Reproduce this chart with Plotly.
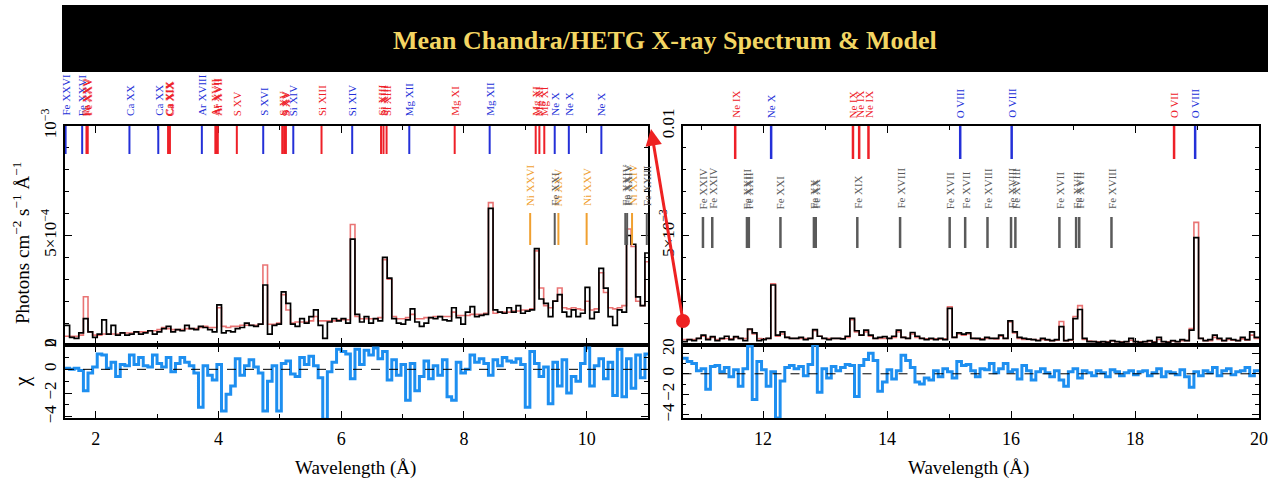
import numpy as np
import plotly.graph_objects as go

W, H = 1278, 485
SERIF = "Liberation Serif, Times New Roman, serif"

# ---------------- data ----------------
BIN = 0.075
LEFT_START = 1.5
RIGHT_START = 10.7
LEFT_UNIT = 1e-4
RIGHT_UNIT = 1e-3

left_flux = [0.9, 0.35, 0.3, 0.55, 1.2, 0.6, 0.35, 0.5, 1.15, 0.5,
             0.9, 0.45, 0.55, 0.45, 0.5, 0.6, 0.5, 0.55, 0.65, 0.5,
             0.6, 0.75, 0.85, 0.6, 0.7, 0.65, 0.9, 0.75, 0.7, 0.85,
             0.8, 0.7, 0.6, 1.83, 0.55, 0.65, 0.6, 0.75, 0.8, 1.0,
             0.9, 0.85, 0.95, 2.74, 0.5, 0.9, 0.95, 2.43, 1.9, 0.95,
             0.85, 1.2, 1.0, 1.3, 1.6, 0.9, 0.3, 1.05, 1.2, 1.1,
             1.2, 1.0, 4.83, 1.4, 1.05, 1.3, 1.0, 1.2, 1.1, 4.0,
             3.05, 1.2, 1.0, 0.95, 1.15, 1.65, 1.05, 0.85, 1.0, 1.25,
             1.2, 1.3, 1.15, 1.1, 1.7, 1.25, 0.95, 1.5, 1.75, 1.3,
             1.35, 1.4, 6.24, 1.6, 1.5, 1.45, 1.7, 1.5, 1.8, 1.45,
             1.55, 1.6, 4.4, 2.1, 1.9, 1.3, 2.0, 2.3, 1.5, 1.3,
             1.6, 1.3, 1.45, 2.63, 1.2, 1.5, 3.5, 2.6, 1.3, 0.9,
             1.6, 1.5, 5.0, 4.6, 2.2, 1.8, 4.2]

left_model = [0.4, 0.4, 0.4, 0.45, 2.2, 0.6, 0.45, 0.45, 0.5, 0.5,
              0.5, 0.5, 0.55, 0.55, 0.55, 0.6, 0.6, 0.6, 0.65, 0.65,
              0.7, 0.8, 0.75, 0.7, 0.7, 0.7, 0.75, 0.75, 0.75, 0.8,
              0.85, 0.8, 0.8, 1.7, 0.85, 0.8, 0.85, 0.85, 0.9, 0.9,
              0.9, 0.9, 0.95, 3.65, 0.95, 0.95, 1.0, 2.3, 1.6, 1.0,
              1.05, 1.05, 1.05, 1.1, 1.3, 1.1, 1.1, 1.1, 1.1, 1.15,
              1.15, 1.15, 5.5, 1.3, 1.2, 1.2, 1.2, 1.2, 1.25, 3.9,
              3.0, 1.3, 1.2, 1.2, 1.25, 1.4, 1.2, 1.2, 1.25, 1.25,
              1.3, 1.3, 1.3, 1.3, 1.5, 1.35, 1.35, 1.35, 1.4, 1.4,
              1.4, 1.45, 6.5, 1.45, 1.5, 1.5, 1.5, 1.55, 1.55, 1.6,
              1.6, 1.65, 4.3, 2.6, 1.8, 1.7, 2.0, 2.6, 1.7, 1.65,
              1.7, 1.65, 1.6, 2.0, 1.6, 1.65, 3.3, 2.4, 1.7, 1.65,
              1.7, 1.8, 5.3, 4.5, 2.0, 1.8, 3.8]

left_chi = [0.1, 0.0, 0.1, -0.1, -1.8, -0.3, 0.2, 1.3, 1.2, 0.1,
            0.6, -0.6, 0.4, 0.3, 1.2, 0.4, 1.0, 0.3, 0.2, 1.2,
            0.5, 0.2, 1.0, -0.2, 0.5, 1.0, 0.6, 0.3, -0.3, -3.2,
            0.3, -0.5, -0.9, 0.4, -3.5, -2.1, -1.4, 0.9, -0.5, 0.3,
            0.8, 0.2, -0.3, -3.5, -1.0, 0.3, -3.5, 0.5, 0.7, -0.4,
            -0.6, 1.0, 0.4, 1.1, 0.3, -0.7, -4.2, -0.2, 0.6, 1.7,
            1.5, 1.3, -0.8, 1.7, 0.4, 1.6, 1.2, 1.8, 0.9, 1.5,
            -0.9, 0.8, -0.5, 0.4, -2.6, 0.5, -1.8, -0.6, 0.7, -0.8,
            0.3, -0.5, 0.8, -2.3, -2.6, 0.6, -0.3, 0.0, 1.2, 0.6,
            0.9, 0.5, -0.5, 0.8, 0.3, 1.0, 0.7, 0.6, 0.9, 0.4,
            -3.2, 1.5, 0.5, -0.6, 0.2, -2.9, 0.6, -1.4, 0.8, -2.0,
            -0.6, -1.0, 0.5, 1.8, -1.4, 0.3, 0.9, -0.8, 0.6, -2.2,
            1.7, -2.3, 0.9, -1.6, 1.2, -0.7, 1.3]

right_flux = [0.15, 0.25, 0.2, 0.3, 0.45, 0.25, 0.38, 0.2, 0.3, 0.4,
              0.25, 0.38, 0.3, 0.2, 0.73, 0.55, 0.2, 0.25, 0.3, 2.74,
              0.45, 0.6, 0.35, 0.3, 0.3, 0.35, 0.25, 0.3, 0.7, 0.4,
              0.3, 0.25, 0.3, 0.3, 0.28, 0.4, 1.22, 0.65, 0.45, 0.68,
              0.45, 0.3, 0.35, 0.38, 0.3, 0.4, 0.68, 0.35, 0.3, 0.57,
              0.4, 0.3, 0.25, 0.3, 0.25, 0.3, 0.25, 1.67, 0.35, 0.55,
              0.5, 0.55, 0.3, 0.3, 0.25, 0.35, 0.3, 0.3, 0.45, 0.3,
              1.1, 0.6, 0.35, 0.3, 0.27, 0.25, 0.2, 0.3, 0.25, 0.2,
              0.25, 0.84, 0.2, 0.25, 1.2, 1.62, 0.3, 0.15, 0.15, 0.12,
              0.15, 0.12, 0.2, 0.15, 0.12, 0.15, 0.3, 0.15, 0.12, 0.15,
              0.2, 0.12, 0.35, 0.15, 0.12, 0.2, 0.15, 0.25, 0.2, 0.68,
              4.9, 0.3, 0.2, 0.25, 0.45, 0.3, 0.2, 0.3, 0.25, 0.2,
              0.35, 0.25, 0.6, 0.35]

right_model = [0.25, 0.25, 0.25, 0.3, 0.4, 0.3, 0.35, 0.25, 0.28, 0.3,
               0.28, 0.35, 0.3, 0.3, 0.7, 0.5, 0.3, 0.28, 0.3, 2.8,
               0.4, 0.5, 0.35, 0.3, 0.3, 0.3, 0.3, 0.3, 0.65, 0.4,
               0.3, 0.3, 0.3, 0.3, 0.3, 0.35, 1.15, 0.6, 0.45, 0.6,
               0.4, 0.3, 0.3, 0.3, 0.3, 0.35, 0.6, 0.35, 0.3, 0.5,
               0.35, 0.3, 0.28, 0.28, 0.28, 0.28, 0.28, 1.75, 0.35, 0.5,
               0.45, 0.5, 0.3, 0.28, 0.28, 0.3, 0.3, 0.28, 0.4, 0.3,
               1.05, 0.55, 0.3, 0.25, 0.25, 0.25, 0.22, 0.25, 0.22, 0.2,
               0.22, 1.07, 0.2, 0.22, 1.3, 1.8, 0.25, 0.18, 0.16, 0.15,
               0.15, 0.15, 0.18, 0.15, 0.15, 0.15, 0.22, 0.15, 0.15, 0.15,
               0.16, 0.15, 0.25, 0.15, 0.15, 0.18, 0.15, 0.2, 0.2, 0.75,
               5.6, 0.3, 0.2, 0.2, 0.35, 0.25, 0.2, 0.25, 0.22, 0.2,
               0.28, 0.22, 0.45, 0.3]

right_chi = [1.5, 1.2, 1.0, 0.3, 0.5, -1.5, 0.7, 0.8, 0.2, 0.6,
             -0.3, 0.4, -1.2, 0.5, 2.7, -2.5, 1.2, 0.4, -1.2, 0.2,
             -4.3, -0.7, 0.6, 0.8, 0.5, 0.7, -0.2, 0.9, 2.8, -1.8,
             0.5, -0.4, 0.7, 0.3, 0.6, 0.9, 0.8, -2.2, 0.8, 1.4,
             2.0, 1.3, -1.7, -0.8, 0.4, -0.5, 0.3, 1.8, 1.3, 0.6,
             -0.8, -1.0, -0.4, -0.6, 0.3, -0.3, 0.5, 0.2, -0.4, 1.2,
             0.8, 0.9, 0.3, -0.3, 0.5, 0.4, 1.0, 0.1, 0.5, 1.0,
             0.2, 0.4, -0.5, 0.8, 0.3, -0.6, 0.2, 0.5, 0.1, -0.3,
             0.3, -0.6, -1.2, 0.2, 0.5, -0.4, 0.3, 0.1, -0.2, 0.3,
             0.1, -0.3, 0.4, 0.2, -0.2, 0.1, 0.3, -0.1, 0.2, 0.3,
             -0.2, 0.1, 0.5, -0.3, 0.2, 0.1, -0.1, 0.4, -0.3, -1.3,
             0.2, -0.2, 0.3, 0.1, 0.6, -0.2, 0.3, 0.5, -0.1, 0.2,
             0.3, 0.6, -0.2, 0.3]

# line identifications
left_h_wl = [1.51, 1.78, 2.55, 3.02, 3.73, 4.73, 5.22, 6.18, 7.11, 8.42, 9.48, 9.71, 10.24]
left_h_lbl = ["Fe XXVI", "Fe XXVI", "Ca XX", "Ca XX", "Ar XVIII", "S XVI", "Si XIV",
              "Si XIV", "Mg XII", "Mg XII", "Ne X", "Ne X", "Ne X"]
left_he_wl = [1.85, 1.86, 1.87, 3.18, 3.19, 3.21, 3.95, 3.97, 3.99, 4.30, 5.04, 5.07, 5.10,
              5.68, 6.65, 6.69, 6.74, 7.85, 9.17, 9.23, 9.31]
left_he_lbl = ["Fe XXV", "Fe XXV", "Fe XXV", "Ca XIX", "Ca XIX", "Ca XIX", "Ar XVII", "Ar XVII",
               "Ar XVII", "S XV", "S XV", "S XV", "S XV", "Si XIII", "Si XIII", "Si XIII",
               "Si XIII", "Mg XI", "Mg XI", "Mg XI", "Mg XI"]
left_ni_wl = [9.08, 9.54, 10.00, 10.74]
left_ni_lbl = ["Ni XXVI", "Ni XXV", "Ni XXV", "Ni XXIV"]
left_fe_wl = [9.48, 10.63, 10.66, 10.98]
left_fe_lbl = ["Fe XXI", "Fe XXIV", "Fe XXIV", "Fe XXIII"]

right_h_wl = [12.13, 15.18, 16.01, 18.97]
right_h_lbl = ["Ne X", "O VIII", "O VIII", "O VIII"]
right_he_wl = [11.55, 13.45, 13.55, 13.70, 18.63]
right_he_lbl = ["Ne IX", "Ne IX", "Ne IX", "Ne IX", "O VII"]
right_fe_wl = [11.03, 11.18, 11.74, 11.77, 12.28, 12.82, 12.85, 13.52, 14.21, 15.01, 15.26,
               15.62, 16.00, 16.07, 16.78, 17.05, 17.10, 17.62]
right_fe_lbl = ["Fe XXIV", "Fe XXIV", "Fe XXIII", "Fe XXII", "Fe XXI", "Fe XX", "Fe XX",
                "Fe XIX", "Fe XVIII", "Fe XVII", "Fe XVII", "Fe XVIII", "Fe XVIII", "Fe XVIII",
                "Fe XVII", "Fe XVII", "Fe XVII", "Fe XVIII"]

TITLE = "Mean Chandra/HETG X-ray Spectrum & Model"

# ---------------- helpers ----------------
def px(x):
    return x / W

def py(y):
    return 1 - y / H

def steps(start, vals, unit=1.0):
    n = len(vals)
    x = start + BIN * np.arange(n + 1)
    y = [v * unit for v in vals] + [vals[-1] * unit]
    return x, y

BLUE = "#2430d8"
RED = "#ee2028"
GRAY = "#5a5a5a"
ORANGE = "#f0a030"
CHI_BLUE = "#1e8ff0"
MODEL = "rgba(226,70,70,0.75)"

fig = go.Figure()

# left spectrum
xs, ys = steps(LEFT_START, left_model, LEFT_UNIT)
fig.add_trace(go.Scatter(x=xs, y=ys, mode="lines", line=dict(color=MODEL, width=1.6, shape="hv"),
                         xaxis="x", yaxis="y", showlegend=False))
xs, ys = steps(LEFT_START, left_flux, LEFT_UNIT)
fig.add_trace(go.Scatter(x=xs, y=ys, mode="lines", line=dict(color="black", width=1.7, shape="hv"),
                         xaxis="x", yaxis="y", showlegend=False))
# right spectrum
xs, ys = steps(RIGHT_START, right_model, RIGHT_UNIT)
fig.add_trace(go.Scatter(x=xs, y=ys, mode="lines", line=dict(color=MODEL, width=1.6, shape="hv"),
                         xaxis="x2", yaxis="y2", showlegend=False))
xs, ys = steps(RIGHT_START, right_flux, RIGHT_UNIT)
fig.add_trace(go.Scatter(x=xs, y=ys, mode="lines", line=dict(color="black", width=1.7, shape="hv"),
                         xaxis="x2", yaxis="y2", showlegend=False))
# residuals
xs, ys = steps(LEFT_START, left_chi)
fig.add_trace(go.Scatter(x=xs, y=ys, mode="lines", line=dict(color=CHI_BLUE, width=3, shape="hv"),
                         xaxis="x3", yaxis="y3", showlegend=False))
xs, ys = steps(RIGHT_START, right_chi)
fig.add_trace(go.Scatter(x=xs, y=ys, mode="lines", line=dict(color=CHI_BLUE, width=3, shape="hv"),
                         xaxis="x4", yaxis="y4", showlegend=False))

# ---------------- axes ----------------
LX = [px(65), px(648)]
RX = [px(682.5), px(1259)]
SPEC_Y = [py(345), py(126)]
RES_Y = [py(418), py(345)]

common = dict(showline=True, linecolor="black", linewidth=1.5, mirror="ticks", ticks="inside",
              ticklen=7, tickwidth=1.2, tickcolor="black", showgrid=False, zeroline=False,
              automargin=False,
              tickfont=dict(family=SERIF, size=18, color="black"))

def minor(d):
    return dict(dtick=d, ticks="inside", ticklen=4, tickwidth=1, tickcolor="black", showgrid=False)

YFONT = dict(family=SERIF, size=17, color="black")

fig.update_layout(
    xaxis=dict(common, domain=LX, anchor="y", range=[1.5, 11], dtick=2, tick0=0,
               minor=minor(1), showticklabels=False),
    xaxis3=dict(common, domain=LX, anchor="y3", range=[1.5, 11], dtick=2, tick0=0,
                minor=minor(1), ticklabelstandoff=4),
    yaxis=dict(common, domain=SPEC_Y, anchor="x", range=[0, 1e-3],
               tickvals=[0, 5e-4, 1e-3], ticktext=["0", "5×10<sup>−4</sup>", "10<sup>−3</sup>"],
               tickangle=-90, minor=minor(1e-4), tickfont=YFONT),
    yaxis3=dict(common, domain=RES_Y, anchor="x3", range=[-4.1, 2.05],
                tickvals=[-4, -2, 0, 2], ticktext=["−4", "−2", "0", "2"],
                tickangle=-90, minor=minor(1), tickfont=YFONT),
    xaxis2=dict(common, domain=RX, anchor="y2", range=[10.7, 20], dtick=2, tick0=0,
                minor=minor(1), showticklabels=False),
    xaxis4=dict(common, domain=RX, anchor="y4", range=[10.7, 20], dtick=2, tick0=0,
                minor=minor(1), ticklabelstandoff=4),
    yaxis2=dict(common, domain=SPEC_Y, anchor="x2", range=[0, 0.01],
                tickvals=[0, 5e-3, 0.01], ticktext=["0", "5×10<sup>−3</sup>", "0.01"],
                tickangle=-90, minor=minor(1e-3), tickfont=YFONT),
    yaxis4=dict(common, domain=RES_Y, anchor="x4", range=[-4.3, 2.8],
                tickvals=[-4, -2, 0, 2], ticktext=["−4", "−2", "0", "2"],
                tickangle=-90, minor=minor(1), tickfont=YFONT),
)

shapes = []
annotations = []

# title bar
shapes.append(dict(type="rect", xref="paper", yref="paper", x0=px(62), x1=px(1268),
                   y0=py(72), y1=py(5), fillcolor="black", line=dict(width=0), layer="above"))
annotations.append(dict(text="<b>" + TITLE + "</b>", xref="paper", yref="paper",
                        x=px(665), y=py(40), xanchor="center", yanchor="middle", showarrow=False,
                        font=dict(family=SERIF, size=26, color="#f3d663")))

# zero lines in residual panels
for xr, yr in (("x3 domain", "y3"), ("x4 domain", "y4")):
    shapes.append(dict(type="line", xref=xr, yref=yr, x0=0, x1=1, y0=0, y1=0,
                       line=dict(color="black", width=1, dash="dash")))

def add_lines(wls, lbls, xref, color, seg_top, seg_bot, lab_bot, width):
    for wl, lb in zip(wls, lbls):
        shapes.append(dict(type="line", xref=xref, yref="paper", x0=wl, x1=wl,
                           y0=py(seg_bot), y1=py(seg_top), line=dict(color=color, width=width)))
        annotations.append(dict(text=lb, xref=xref, yref="paper", x=wl, y=py(lab_bot),
                                xanchor="center", yanchor="bottom", textangle=-90,
                                showarrow=False, font=dict(family=SERIF, size=11, color=color)))

add_lines(left_h_wl, left_h_lbl, "x", BLUE, 126, 154, 118, 2)
add_lines(left_he_wl, left_he_lbl, "x", RED, 126, 154, 118, 2)
add_lines(left_ni_wl, left_ni_lbl, "x", ORANGE, 213, 245, 208, 2)
add_lines(left_fe_wl, left_fe_lbl, "x", GRAY, 213, 245, 208, 2)
add_lines(right_h_wl, right_h_lbl, "x2", BLUE, 126, 159, 120, 2.5)
add_lines(right_he_wl, right_he_lbl, "x2", RED, 126, 159, 120, 2.5)
add_lines(right_fe_wl, right_fe_lbl, "x2", GRAY, 217, 248, 211, 2.5)

# axis titles
annotations.append(dict(text="Wavelength (Å)", xref="paper", yref="paper", x=px(355), y=py(468),
                        xanchor="center", yanchor="middle", showarrow=False,
                        font=dict(family=SERIF, size=19, color="black")))
annotations.append(dict(text="Wavelength (Å)", xref="paper", yref="paper", x=px(968), y=py(468),
                        xanchor="center", yanchor="middle", showarrow=False,
                        font=dict(family=SERIF, size=19, color="black")))
annotations.append(dict(text="Photons cm<sup>−2</sup> s<sup>−1</sup> Å<sup>−1</sup>", xref="paper",
                        yref="paper", x=px(21), y=py(243), xanchor="center", yanchor="middle",
                        textangle=-90, showarrow=False,
                        font=dict(family=SERIF, size=19, color="black")))
annotations.append(dict(text="χ", xref="paper", yref="paper", x=px(22), y=py(382),
                        xanchor="center", yanchor="middle", textangle=-90, showarrow=False,
                        font=dict(family=SERIF, size=21, color="black")))

# red arrow linking the panels
annotations.append(dict(text="", xref="paper", yref="paper", x=px(651), y=py(129),
                        ax=32, ay=192, showarrow=True, arrowhead=2, arrowsize=1.1,
                        arrowwidth=3, arrowcolor="#ee2222"))
shapes.append(dict(type="circle", xref="paper", yref="paper", x0=px(676), x1=px(690),
                   y0=py(328), y1=py(314), fillcolor="#ee2222", line=dict(width=0)))

fig.update_layout(shapes=shapes, annotations=annotations, width=W, height=H,
                  margin=dict(l=0, r=0, t=0, b=0, autoexpand=False),
                  paper_bgcolor="white", plot_bgcolor="white", showlegend=False)

fig.write_html("out.html", config={"displayModeBar": False},
               post_script="document.body.style.margin='0';document.body.style.overflow='hidden';")
